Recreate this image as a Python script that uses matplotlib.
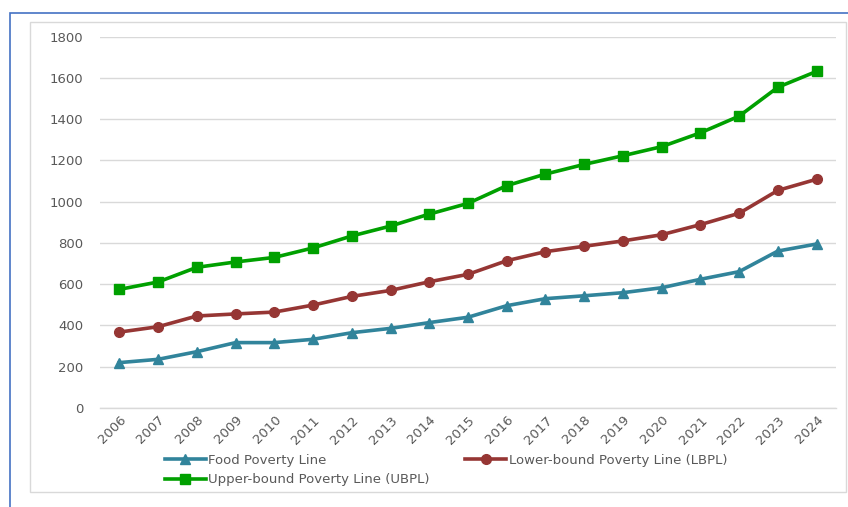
import matplotlib.pyplot as plt
from matplotlib.patches import Rectangle

plt.rcParams['font.family'] = ['DejaVu Sans']

years = [str(y) for y in range(2006, 2025)]
food = [220, 236, 273, 317, 317, 333, 365, 386, 414, 440,
        496, 530, 544, 559, 583, 624, 661, 761, 795]
lbpl = [368, 394, 446, 456, 465, 499, 541, 570, 612, 648,
        714, 758, 784, 810, 840, 889, 944, 1055, 1109]
ubpl = [575, 611, 682, 708, 730, 776, 834, 882, 940, 992,
        1078, 1134, 1181, 1223, 1267, 1334, 1415, 1555, 1632]
yticks = [0, 200, 400, 600, 800, 1000, 1200, 1400, 1600, 1800]

W, H = 848, 507
fig = plt.figure(figsize=(W / 100, H / 100), dpi=100)

# outer blue frame and inner grey chart border
fig.add_artist(Rectangle((10 / W, -0.05), 1.0, 1 - 13 / H + 0.05, transform=fig.transFigure,
                         fill=False, edgecolor='#4472C4', lw=1.2))
fig.add_artist(Rectangle((30 / W, 1 - 492 / H), (846 - 30) / W, (492 - 22) / H,
                         transform=fig.transFigure, fill=False, edgecolor='#D9D9D9', lw=1))

ax = fig.add_axes([100 / W, 1 - 408 / H, (836 - 100) / W, (408 - 36.7) / H])
x = list(range(len(years)))

l1, = ax.plot(x, food, color='#31849B', lw=2.6, marker='^', ms=7, label='Food Poverty Line')
l2, = ax.plot(x, lbpl, color='#963634', lw=2.6, marker='o', ms=7,
              label='Lower-bound Poverty Line (LBPL)')
l3, = ax.plot(x, ubpl, color='#00A000', lw=2.6, marker='s', ms=7,
              label='Upper-bound Poverty Line (UBPL)')

ax.set_xlim(-0.5, len(years) - 0.5)
ax.set_ylim(0, 1800)
ax.set_yticks(yticks)
ax.set_xticks(x)
ax.set_xticklabels(years, rotation=45, ha='right', rotation_mode='anchor')
ax.grid(axis='y', color='#D9D9D9', lw=1)
ax.axhline(0, color='#D9D9D9', lw=1, clip_on=False, zorder=0.5)
ax.set_axisbelow(True)
for s in ax.spines.values():
    s.set_visible(False)
ax.tick_params(length=0, labelsize=9.5, colors='#595959')
ax.tick_params(axis='y', pad=12)
ax.tick_params(axis='x', pad=4)

leg = fig.legend([l1, l3, l2], [l1.get_label(), l3.get_label(), l2.get_label()],
                 ncol=2, loc='upper left', bbox_to_anchor=(158 / W, 1 - 447 / H),
                 frameon=False, fontsize=9.5, handlelength=3.1, handletextpad=0.2,
                 columnspacing=2.7, labelspacing=0.5, borderpad=0)
for t in leg.get_texts():
    t.set_color('#595959')

fig.savefig('out.png', dpi=100)
